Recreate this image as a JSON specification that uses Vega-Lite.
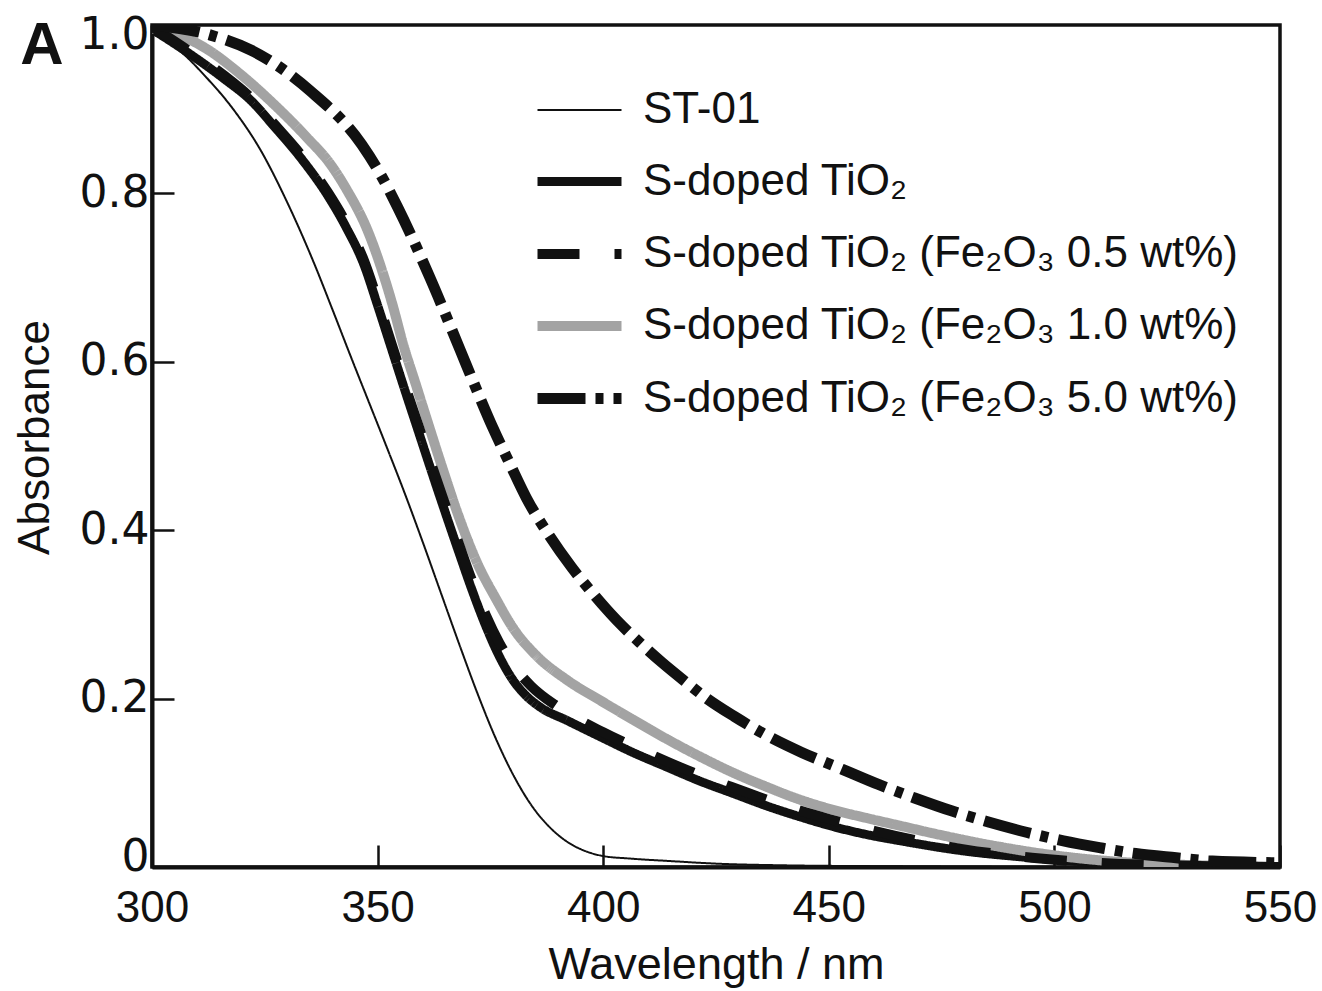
{
  "$schema": "https://vega.github.io/schema/vega-lite/v6.json",
  "width": 1128,
  "height": 842,
  "autosize": {"type": "none"},
  "padding": {"left": 152, "top": 25, "right": 42, "bottom": 124},
  "background": "white",
  "config": {
    "font": "Liberation Sans",
    "view": {"stroke": "#111111", "strokeWidth": 3.5},
    "axis": {
      "domain": true, "domainColor": "#111111", "domainWidth": 4,
      "grid": false,
      "tickColor": "#111111", "tickWidth": 2.5, "tickSize": -22,
      "labelFont": "Liberation Sans", "labelColor": "#111111",
      "titleFont": "Liberation Sans", "titleFontWeight": "normal", "titleColor": "#111111"
    },
    "legend": {
      "orient": "none", "legendX": 380, "legendY": 42,
      "symbolType": "stroke", "symbolSize": 7056,
      "labelFont": "Liberation Sans", "labelFontSize": 44, "labelColor": "#111111", "labelLimit": 0,
      "labelOffset": 16, "rowPadding": 3, "title": null
    }
  },
  "datasets": {
    "spectra": [
      {"s": "ST-01", "x": 300, "y": 0.99}, {"s": "ST-01", "x": 306, "y": 0.97}, {"s": "ST-01", "x": 312, "y": 0.938}, {"s": "ST-01", "x": 318, "y": 0.9}, {"s": "ST-01", "x": 324, "y": 0.852}, {"s": "ST-01", "x": 330, "y": 0.789}, {"s": "ST-01", "x": 336, "y": 0.716}, {"s": "ST-01", "x": 340, "y": 0.662}, {"s": "ST-01", "x": 344, "y": 0.607}, {"s": "ST-01", "x": 348, "y": 0.553}, {"s": "ST-01", "x": 352, "y": 0.499}, {"s": "ST-01", "x": 356, "y": 0.444}, {"s": "ST-01", "x": 360, "y": 0.386}, {"s": "ST-01", "x": 364, "y": 0.326}, {"s": "ST-01", "x": 368, "y": 0.266}, {"s": "ST-01", "x": 372, "y": 0.208}, {"s": "ST-01", "x": 376, "y": 0.155}, {"s": "ST-01", "x": 380, "y": 0.11}, {"s": "ST-01", "x": 384, "y": 0.074}, {"s": "ST-01", "x": 388, "y": 0.048}, {"s": "ST-01", "x": 392, "y": 0.03}, {"s": "ST-01", "x": 396, "y": 0.019}, {"s": "ST-01", "x": 400, "y": 0.013}, {"s": "ST-01", "x": 406, "y": 0.01}, {"s": "ST-01", "x": 415, "y": 0.007}, {"s": "ST-01", "x": 425, "y": 0.004}, {"s": "ST-01", "x": 440, "y": 0.002}, {"s": "ST-01", "x": 460, "y": 0.001}, {"s": "ST-01", "x": 500, "y": 0}, {"s": "ST-01", "x": 550, "y": 0},

      {"s": "S-doped TiO₂", "x": 300, "y": 0.995}, {"s": "S-doped TiO₂", "x": 308, "y": 0.967}, {"s": "S-doped TiO₂", "x": 316, "y": 0.936}, {"s": "S-doped TiO₂", "x": 322, "y": 0.91}, {"s": "S-doped TiO₂", "x": 327, "y": 0.88}, {"s": "S-doped TiO₂", "x": 333, "y": 0.842}, {"s": "S-doped TiO₂", "x": 339, "y": 0.797}, {"s": "S-doped TiO₂", "x": 343, "y": 0.76}, {"s": "S-doped TiO₂", "x": 347, "y": 0.715}, {"s": "S-doped TiO₂", "x": 350, "y": 0.667}, {"s": "S-doped TiO₂", "x": 353, "y": 0.617}, {"s": "S-doped TiO₂", "x": 356, "y": 0.567}, {"s": "S-doped TiO₂", "x": 359, "y": 0.518}, {"s": "S-doped TiO₂", "x": 362, "y": 0.469}, {"s": "S-doped TiO₂", "x": 365, "y": 0.421}, {"s": "S-doped TiO₂", "x": 368, "y": 0.374}, {"s": "S-doped TiO₂", "x": 371, "y": 0.328}, {"s": "S-doped TiO₂", "x": 374, "y": 0.286}, {"s": "S-doped TiO₂", "x": 377, "y": 0.25}, {"s": "S-doped TiO₂", "x": 380, "y": 0.222}, {"s": "S-doped TiO₂", "x": 383, "y": 0.203}, {"s": "S-doped TiO₂", "x": 386, "y": 0.19}, {"s": "S-doped TiO₂", "x": 392, "y": 0.174}, {"s": "S-doped TiO₂", "x": 400, "y": 0.153}, {"s": "S-doped TiO₂", "x": 407, "y": 0.135}, {"s": "S-doped TiO₂", "x": 414, "y": 0.119}, {"s": "S-doped TiO₂", "x": 421, "y": 0.103}, {"s": "S-doped TiO₂", "x": 429, "y": 0.087}, {"s": "S-doped TiO₂", "x": 436, "y": 0.073}, {"s": "S-doped TiO₂", "x": 444, "y": 0.059}, {"s": "S-doped TiO₂", "x": 451, "y": 0.048}, {"s": "S-doped TiO₂", "x": 458, "y": 0.039}, {"s": "S-doped TiO₂", "x": 466, "y": 0.031}, {"s": "S-doped TiO₂", "x": 480, "y": 0.019}, {"s": "S-doped TiO₂", "x": 495, "y": 0.011}, {"s": "S-doped TiO₂", "x": 510, "y": 0.005}, {"s": "S-doped TiO₂", "x": 525, "y": 0.002}, {"s": "S-doped TiO₂", "x": 550, "y": 0},

      {"s": "S-doped TiO₂ (Fe₂O₃ 1.0 wt%)", "x": 300, "y": 0.996}, {"s": "S-doped TiO₂ (Fe₂O₃ 1.0 wt%)", "x": 305, "y": 0.99}, {"s": "S-doped TiO₂ (Fe₂O₃ 1.0 wt%)", "x": 312, "y": 0.972}, {"s": "S-doped TiO₂ (Fe₂O₃ 1.0 wt%)", "x": 319.5, "y": 0.942}, {"s": "S-doped TiO₂ (Fe₂O₃ 1.0 wt%)", "x": 327, "y": 0.906}, {"s": "S-doped TiO₂ (Fe₂O₃ 1.0 wt%)", "x": 334.4, "y": 0.866}, {"s": "S-doped TiO₂ (Fe₂O₃ 1.0 wt%)", "x": 339.5, "y": 0.835}, {"s": "S-doped TiO₂ (Fe₂O₃ 1.0 wt%)", "x": 343.2, "y": 0.804}, {"s": "S-doped TiO₂ (Fe₂O₃ 1.0 wt%)", "x": 347.7, "y": 0.757}, {"s": "S-doped TiO₂ (Fe₂O₃ 1.0 wt%)", "x": 351.2, "y": 0.705}, {"s": "S-doped TiO₂ (Fe₂O₃ 1.0 wt%)", "x": 353.4, "y": 0.666}, {"s": "S-doped TiO₂ (Fe₂O₃ 1.0 wt%)", "x": 355.6, "y": 0.622}, {"s": "S-doped TiO₂ (Fe₂O₃ 1.0 wt%)", "x": 358.6, "y": 0.571}, {"s": "S-doped TiO₂ (Fe₂O₃ 1.0 wt%)", "x": 361.6, "y": 0.52}, {"s": "S-doped TiO₂ (Fe₂O₃ 1.0 wt%)", "x": 364.6, "y": 0.47}, {"s": "S-doped TiO₂ (Fe₂O₃ 1.0 wt%)", "x": 367.6, "y": 0.422}, {"s": "S-doped TiO₂ (Fe₂O₃ 1.0 wt%)", "x": 372, "y": 0.362}, {"s": "S-doped TiO₂ (Fe₂O₃ 1.0 wt%)", "x": 376.5, "y": 0.316}, {"s": "S-doped TiO₂ (Fe₂O₃ 1.0 wt%)", "x": 380, "y": 0.284}, {"s": "S-doped TiO₂ (Fe₂O₃ 1.0 wt%)", "x": 385, "y": 0.252}, {"s": "S-doped TiO₂ (Fe₂O₃ 1.0 wt%)", "x": 392, "y": 0.222}, {"s": "S-doped TiO₂ (Fe₂O₃ 1.0 wt%)", "x": 399.3, "y": 0.198}, {"s": "S-doped TiO₂ (Fe₂O₃ 1.0 wt%)", "x": 406.6, "y": 0.175}, {"s": "S-doped TiO₂ (Fe₂O₃ 1.0 wt%)", "x": 414.1, "y": 0.152}, {"s": "S-doped TiO₂ (Fe₂O₃ 1.0 wt%)", "x": 421.5, "y": 0.131}, {"s": "S-doped TiO₂ (Fe₂O₃ 1.0 wt%)", "x": 428.8, "y": 0.112}, {"s": "S-doped TiO₂ (Fe₂O₃ 1.0 wt%)", "x": 436.3, "y": 0.095}, {"s": "S-doped TiO₂ (Fe₂O₃ 1.0 wt%)", "x": 443.6, "y": 0.08}, {"s": "S-doped TiO₂ (Fe₂O₃ 1.0 wt%)", "x": 450.9, "y": 0.068}, {"s": "S-doped TiO₂ (Fe₂O₃ 1.0 wt%)", "x": 458.5, "y": 0.058}, {"s": "S-doped TiO₂ (Fe₂O₃ 1.0 wt%)", "x": 465.8, "y": 0.049}, {"s": "S-doped TiO₂ (Fe₂O₃ 1.0 wt%)", "x": 473.1, "y": 0.04}, {"s": "S-doped TiO₂ (Fe₂O₃ 1.0 wt%)", "x": 487.9, "y": 0.024}, {"s": "S-doped TiO₂ (Fe₂O₃ 1.0 wt%)", "x": 502.8, "y": 0.012}, {"s": "S-doped TiO₂ (Fe₂O₃ 1.0 wt%)", "x": 517.4, "y": 0.005}, {"s": "S-doped TiO₂ (Fe₂O₃ 1.0 wt%)", "x": 532.3, "y": 0.002}, {"s": "S-doped TiO₂ (Fe₂O₃ 1.0 wt%)", "x": 550, "y": 0},

      {"s": "S-doped TiO₂ (Fe₂O₃ 0.5 wt%)", "x": 300, "y": 0.998}, {"s": "S-doped TiO₂ (Fe₂O₃ 0.5 wt%)", "x": 308, "y": 0.97}, {"s": "S-doped TiO₂ (Fe₂O₃ 0.5 wt%)", "x": 316, "y": 0.94}, {"s": "S-doped TiO₂ (Fe₂O₃ 0.5 wt%)", "x": 322, "y": 0.913}, {"s": "S-doped TiO₂ (Fe₂O₃ 0.5 wt%)", "x": 327, "y": 0.883}, {"s": "S-doped TiO₂ (Fe₂O₃ 0.5 wt%)", "x": 333, "y": 0.846}, {"s": "S-doped TiO₂ (Fe₂O₃ 0.5 wt%)", "x": 339, "y": 0.801}, {"s": "S-doped TiO₂ (Fe₂O₃ 0.5 wt%)", "x": 343, "y": 0.765}, {"s": "S-doped TiO₂ (Fe₂O₃ 0.5 wt%)", "x": 347, "y": 0.72}, {"s": "S-doped TiO₂ (Fe₂O₃ 0.5 wt%)", "x": 350, "y": 0.673}, {"s": "S-doped TiO₂ (Fe₂O₃ 0.5 wt%)", "x": 353, "y": 0.623}, {"s": "S-doped TiO₂ (Fe₂O₃ 0.5 wt%)", "x": 356, "y": 0.573}, {"s": "S-doped TiO₂ (Fe₂O₃ 0.5 wt%)", "x": 359, "y": 0.525}, {"s": "S-doped TiO₂ (Fe₂O₃ 0.5 wt%)", "x": 362, "y": 0.477}, {"s": "S-doped TiO₂ (Fe₂O₃ 0.5 wt%)", "x": 365, "y": 0.43}, {"s": "S-doped TiO₂ (Fe₂O₃ 0.5 wt%)", "x": 368, "y": 0.384}, {"s": "S-doped TiO₂ (Fe₂O₃ 0.5 wt%)", "x": 371, "y": 0.339}, {"s": "S-doped TiO₂ (Fe₂O₃ 0.5 wt%)", "x": 374, "y": 0.299}, {"s": "S-doped TiO₂ (Fe₂O₃ 0.5 wt%)", "x": 377, "y": 0.266}, {"s": "S-doped TiO₂ (Fe₂O₃ 0.5 wt%)", "x": 380, "y": 0.24}, {"s": "S-doped TiO₂ (Fe₂O₃ 0.5 wt%)", "x": 384, "y": 0.215}, {"s": "S-doped TiO₂ (Fe₂O₃ 0.5 wt%)", "x": 390, "y": 0.19}, {"s": "S-doped TiO₂ (Fe₂O₃ 0.5 wt%)", "x": 400, "y": 0.16}, {"s": "S-doped TiO₂ (Fe₂O₃ 0.5 wt%)", "x": 410, "y": 0.135}, {"s": "S-doped TiO₂ (Fe₂O₃ 0.5 wt%)", "x": 420, "y": 0.112}, {"s": "S-doped TiO₂ (Fe₂O₃ 0.5 wt%)", "x": 430, "y": 0.092}, {"s": "S-doped TiO₂ (Fe₂O₃ 0.5 wt%)", "x": 440, "y": 0.073}, {"s": "S-doped TiO₂ (Fe₂O₃ 0.5 wt%)", "x": 450, "y": 0.057}, {"s": "S-doped TiO₂ (Fe₂O₃ 0.5 wt%)", "x": 460, "y": 0.043}, {"s": "S-doped TiO₂ (Fe₂O₃ 0.5 wt%)", "x": 470, "y": 0.031}, {"s": "S-doped TiO₂ (Fe₂O₃ 0.5 wt%)", "x": 480, "y": 0.021}, {"s": "S-doped TiO₂ (Fe₂O₃ 0.5 wt%)", "x": 495, "y": 0.011}, {"s": "S-doped TiO₂ (Fe₂O₃ 0.5 wt%)", "x": 510, "y": 0.005}, {"s": "S-doped TiO₂ (Fe₂O₃ 0.5 wt%)", "x": 525, "y": 0.002}, {"s": "S-doped TiO₂ (Fe₂O₃ 0.5 wt%)", "x": 550, "y": 0},

      {"s": "S-doped TiO₂ (Fe₂O₃ 5.0 wt%)", "x": 300, "y": 1.0}, {"s": "S-doped TiO₂ (Fe₂O₃ 5.0 wt%)", "x": 313, "y": 0.988}, {"s": "S-doped TiO₂ (Fe₂O₃ 5.0 wt%)", "x": 322, "y": 0.97}, {"s": "S-doped TiO₂ (Fe₂O₃ 5.0 wt%)", "x": 335, "y": 0.922}, {"s": "S-doped TiO₂ (Fe₂O₃ 5.0 wt%)", "x": 346.5, "y": 0.858}, {"s": "S-doped TiO₂ (Fe₂O₃ 5.0 wt%)", "x": 350.5, "y": 0.824}, {"s": "S-doped TiO₂ (Fe₂O₃ 5.0 wt%)", "x": 354.5, "y": 0.783}, {"s": "S-doped TiO₂ (Fe₂O₃ 5.0 wt%)", "x": 361.6, "y": 0.7}, {"s": "S-doped TiO₂ (Fe₂O₃ 5.0 wt%)", "x": 368.3, "y": 0.614}, {"s": "S-doped TiO₂ (Fe₂O₃ 5.0 wt%)", "x": 372, "y": 0.566}, {"s": "S-doped TiO₂ (Fe₂O₃ 5.0 wt%)", "x": 375.6, "y": 0.521}, {"s": "S-doped TiO₂ (Fe₂O₃ 5.0 wt%)", "x": 379.3, "y": 0.479}, {"s": "S-doped TiO₂ (Fe₂O₃ 5.0 wt%)", "x": 383, "y": 0.438}, {"s": "S-doped TiO₂ (Fe₂O₃ 5.0 wt%)", "x": 388, "y": 0.394}, {"s": "S-doped TiO₂ (Fe₂O₃ 5.0 wt%)", "x": 393, "y": 0.356}, {"s": "S-doped TiO₂ (Fe₂O₃ 5.0 wt%)", "x": 398, "y": 0.323}, {"s": "S-doped TiO₂ (Fe₂O₃ 5.0 wt%)", "x": 403, "y": 0.293}, {"s": "S-doped TiO₂ (Fe₂O₃ 5.0 wt%)", "x": 408, "y": 0.267}, {"s": "S-doped TiO₂ (Fe₂O₃ 5.0 wt%)", "x": 413, "y": 0.243}, {"s": "S-doped TiO₂ (Fe₂O₃ 5.0 wt%)", "x": 418, "y": 0.221}, {"s": "S-doped TiO₂ (Fe₂O₃ 5.0 wt%)", "x": 423, "y": 0.2}, {"s": "S-doped TiO₂ (Fe₂O₃ 5.0 wt%)", "x": 429, "y": 0.179}, {"s": "S-doped TiO₂ (Fe₂O₃ 5.0 wt%)", "x": 436, "y": 0.157}, {"s": "S-doped TiO₂ (Fe₂O₃ 5.0 wt%)", "x": 444, "y": 0.136}, {"s": "S-doped TiO₂ (Fe₂O₃ 5.0 wt%)", "x": 453, "y": 0.116}, {"s": "S-doped TiO₂ (Fe₂O₃ 5.0 wt%)", "x": 461, "y": 0.098}, {"s": "S-doped TiO₂ (Fe₂O₃ 5.0 wt%)", "x": 469, "y": 0.082}, {"s": "S-doped TiO₂ (Fe₂O₃ 5.0 wt%)", "x": 477, "y": 0.067}, {"s": "S-doped TiO₂ (Fe₂O₃ 5.0 wt%)", "x": 485, "y": 0.054}, {"s": "S-doped TiO₂ (Fe₂O₃ 5.0 wt%)", "x": 494, "y": 0.041}, {"s": "S-doped TiO₂ (Fe₂O₃ 5.0 wt%)", "x": 502, "y": 0.031}, {"s": "S-doped TiO₂ (Fe₂O₃ 5.0 wt%)", "x": 510, "y": 0.023}, {"s": "S-doped TiO₂ (Fe₂O₃ 5.0 wt%)", "x": 518, "y": 0.016}, {"s": "S-doped TiO₂ (Fe₂O₃ 5.0 wt%)", "x": 527, "y": 0.011}, {"s": "S-doped TiO₂ (Fe₂O₃ 5.0 wt%)", "x": 535, "y": 0.007}, {"s": "S-doped TiO₂ (Fe₂O₃ 5.0 wt%)", "x": 550, "y": 0.005}
    ],
    "panel": [{"label": "A"}]
  },
  "layer": [
    {
      "data": {"name": "spectra"},
      "mark": {"type": "line", "interpolate": "monotone", "strokeCap": "butt", "clip": true},
      "encoding": {
        "x": {
          "field": "x", "type": "quantitative",
          "scale": {"domain": [300, 550], "nice": false, "zero": false},
          "axis": {"values": [300, 350, 400, 450, 500, 550], "title": "Wavelength / nm", "labelFontSize": 44, "titleFontSize": 45, "labelPadding": 41, "titlePadding": 12, "labelFlush": false}
        },
        "y": {
          "field": "y", "type": "quantitative",
          "scale": {"domain": [0, 1], "nice": false},
          "axis": {"values": [0, 0.2, 0.4, 0.6, 0.8, 1.0], "title": "Absorbance", "labelFont": "DejaVu Sans", "labelFontSize": 44, "titleFontSize": 44, "labelExpr": "datum.value == 0 ? '0' : format(datum.value, '.1f')", "labelPadding": 25, "titlePadding": 22, "titleY": 412, "labelFlush": true, "labelFlushOffset": 12}
        },
        "color": {
          "field": "s", "type": "nominal",
          "scale": {
            "domain": ["ST-01", "S-doped TiO₂", "S-doped TiO₂ (Fe₂O₃ 0.5 wt%)", "S-doped TiO₂ (Fe₂O₃ 1.0 wt%)", "S-doped TiO₂ (Fe₂O₃ 5.0 wt%)"],
            "range": ["#111111", "#111111", "#111111", "#a3a3a3", "#111111"]
          }
        },
        "strokeDash": {
          "field": "s", "type": "nominal",
          "scale": {
            "domain": ["ST-01", "S-doped TiO₂", "S-doped TiO₂ (Fe₂O₃ 0.5 wt%)", "S-doped TiO₂ (Fe₂O₃ 1.0 wt%)", "S-doped TiO₂ (Fe₂O₃ 5.0 wt%)"],
            "range": [[1, 0], [1, 0], [42, 35], [1, 0], [48, 10, 8, 10]]
          }
        },
        "strokeWidth": {
          "field": "s", "type": "nominal",
          "scale": {
            "type": "ordinal",
            "domain": ["ST-01", "S-doped TiO₂", "S-doped TiO₂ (Fe₂O₃ 0.5 wt%)", "S-doped TiO₂ (Fe₂O₃ 1.0 wt%)", "S-doped TiO₂ (Fe₂O₃ 5.0 wt%)"],
            "range": [2, 9, 10, 10, 11]
          }
        }
      }
    },
    {
      "data": {"name": "panel"},
      "mark": {"type": "text", "fontSize": 60, "fontWeight": "bold", "font": "Liberation Sans", "color": "#111111", "align": "center", "baseline": "middle"},
      "encoding": {"text": {"field": "label"}, "x": {"datum": 275.6}, "y": {"datum": 0.975}}
    }
  ]
}
